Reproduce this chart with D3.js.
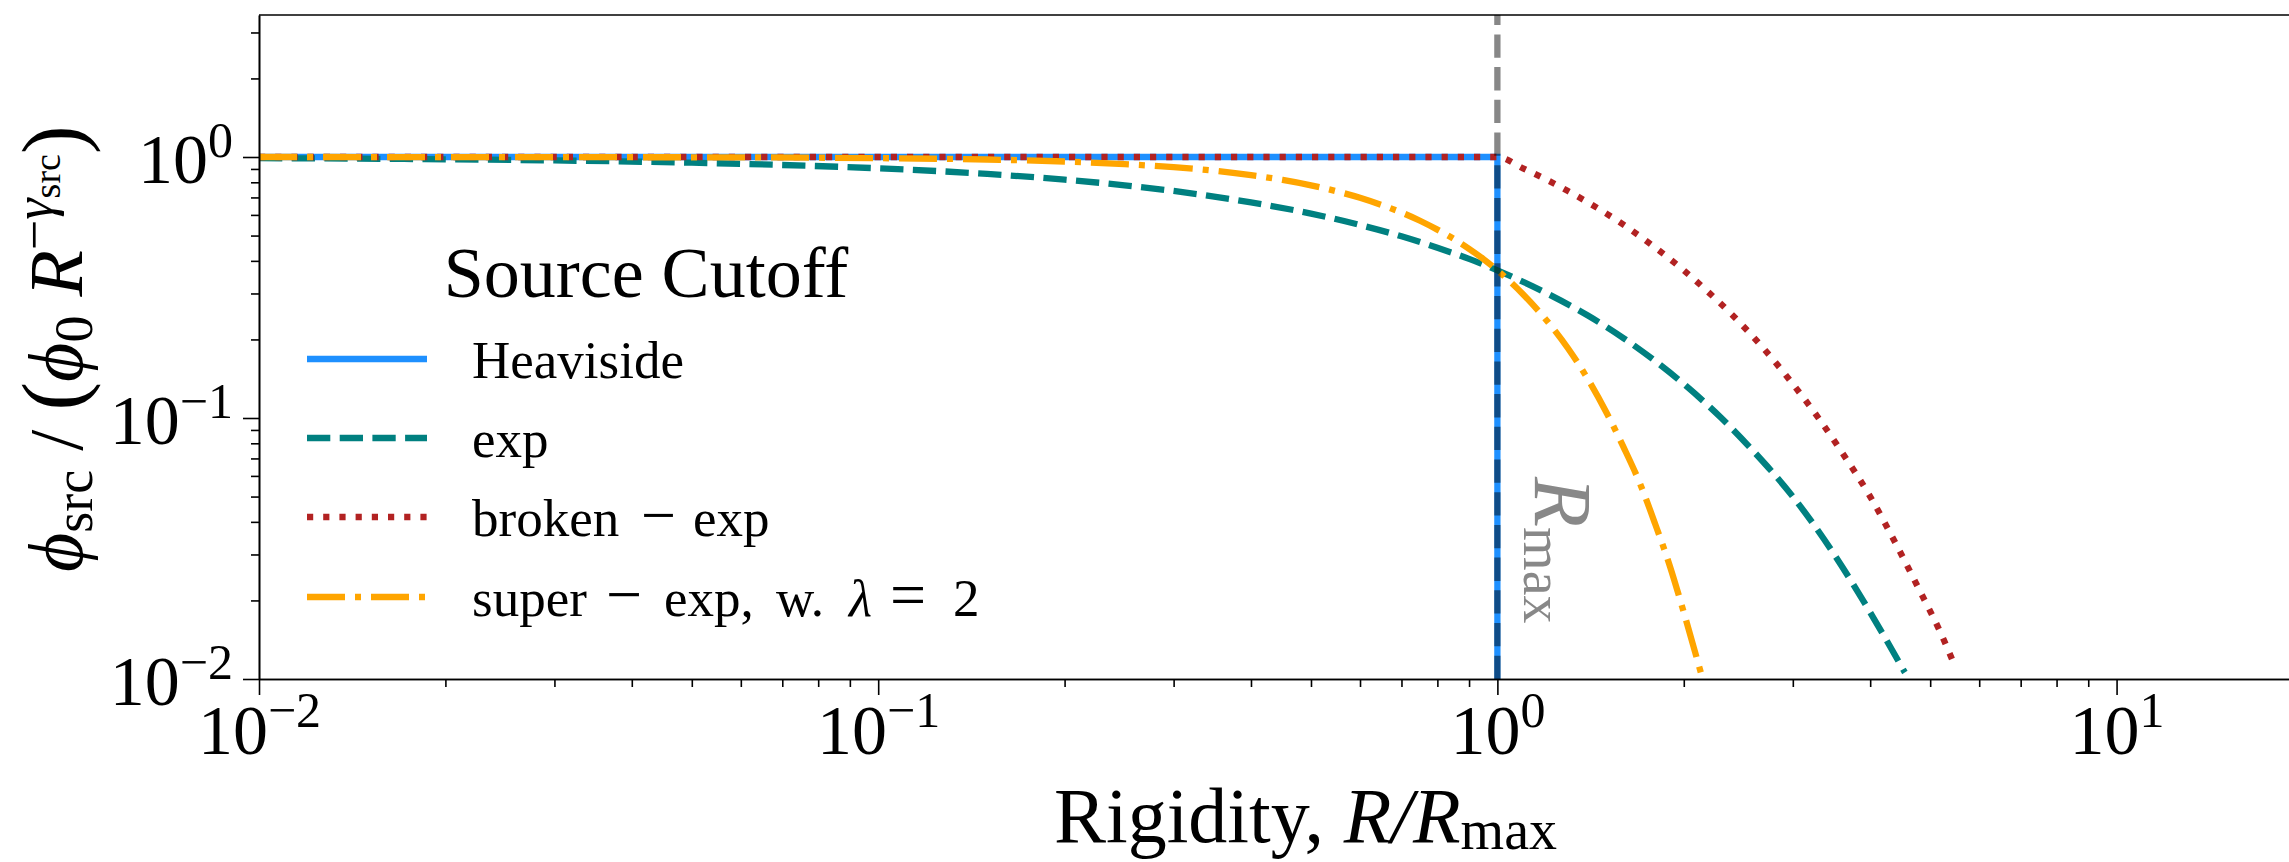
<!DOCTYPE html>
<html><head><meta charset="utf-8">
<script src="https://cdn.jsdelivr.net/npm/d3@7"></script>
<style>
body{margin:0;background:#fff}
svg{display:block}
text{font-family:"Liberation Serif","Times New Roman",serif;fill:#000}
</style>
</head><body>
<svg id="chart" width="2289" height="862"></svg>
<script>
// ---------- data ----------
const xTickValues = [0.01, 0.1, 1, 10];
const xTickExponents = ["−2", "−1", "0", "1"];
const yTickValues = [0.01, 0.1, 1];
const yTickExponents = ["−2", "−1", "0"];
const xMinorTicks = [0.02,0.03,0.04,0.05,0.06,0.07,0.08,0.09,0.2,0.3,0.4,0.5,0.6,0.7,0.8,0.9,2,3,4,5,6,7,8,9,20];
const yMinorTicks = [0.02,0.03,0.04,0.05,0.06,0.07,0.08,0.09,0.2,0.3,0.4,0.5,0.6,0.7,0.8,0.9,2,3];

const heavisideX = [0.01, 1, 1];
const heavisideY = [1, 1, 0.01];

const expX = [0.01,0.02,0.03,0.05,0.07,0.1,0.15,0.2,0.25,0.3,0.4,0.5,0.6,0.7,0.8,0.9,1.0,1.2,1.4,1.6,1.8,2.0,2.3,2.6,3.0,3.5,4.0,4.55];
const expY = [0.990,0.980,0.970,0.951,0.932,0.905,0.861,0.819,0.779,0.741,0.670,0.607,0.549,0.497,0.449,0.407,0.368,0.301,0.247,0.202,0.165,0.135,0.100,0.074,0.050,0.030,0.018,0.0106];

const brokenX = [0.01,0.1,0.5,1.0,1.1,1.2,1.3,1.4,1.5,1.6,1.8,2.0,2.2,2.4,2.7,3.0,3.3,3.6,4.0,4.4,4.8,5.2,5.5];
const brokenY = [1,1,1,1,0.905,0.819,0.741,0.670,0.607,0.549,0.449,0.368,0.301,0.247,0.183,0.135,0.100,0.074,0.050,0.033,0.022,0.015,0.011];

const superX = [0.01,0.05,0.1,0.15,0.2,0.25,0.3,0.35,0.4,0.45,0.5,0.55,0.6,0.65,0.7,0.75,0.8,0.85,0.9,0.95,1.0,1.1,1.2,1.3,1.4,1.5,1.6,1.7,1.8,1.9,2.0,2.14];
const superY = [1.0,0.9975,0.990,0.978,0.961,0.939,0.914,0.885,0.852,0.817,0.779,0.739,0.698,0.655,0.613,0.570,0.527,0.486,0.445,0.406,0.368,0.298,0.237,0.185,0.141,0.105,0.077,0.056,0.039,0.027,0.018,0.0102];

const cutoffPosition = 1;
const legendTitle = "Source Cutoff";

// ---------- layout ----------
const svg = d3.select("#chart");
const L = 259, T = 15, B = 679, R = 2352;
const x = d3.scaleLog().domain([0.01, 24]).range([L, R]);
const y = d3.scaleLog().domain([0.01, 3.5]).range([B, T]);

svg.append("defs").append("clipPath").attr("id","clip")
  .append("rect").attr("x",L).attr("y",T).attr("width",R-L).attr("height",B-T);

// ---------- series ----------
const series = [
  {name:"Heaviside", xs:heavisideX, ys:heavisideY, color:"#1e90ff", dash:null, curve:d3.curveLinear},
  {name:"exp", xs:expX, ys:expY, color:"#008080", dash:"23.3 9.4", curve:d3.curveMonotoneX},
  {name:"broken", xs:brokenX, ys:brokenY, color:"#b22222", dash:"6.2 10", curve:d3.curveMonotoneX},
  {name:"super", xs:superX, ys:superY, color:"#ffa500", dash:"38 10 6 10", curve:d3.curveMonotoneX}
];
const plot = svg.append("g").attr("clip-path","url(#clip)");
series.forEach(s => {
  const pts = s.xs.map((v,i)=>[v, s.ys[i]]);
  const line = d3.line().x(d=>x(d[0])).y(d=>y(d[1])).curve(s.curve);
  plot.append("path").attr("d", line(pts)).attr("fill","none")
    .attr("stroke", s.color).attr("stroke-width", 6.3)
    .attr("stroke-dasharray", s.dash);
});
// vertical cutoff line (drawn bottom to top)
plot.append("line").attr("x1",x(cutoffPosition)).attr("x2",x(cutoffPosition))
  .attr("y1",B).attr("y2",T).attr("stroke","#000").attr("stroke-opacity",0.47)
  .attr("stroke-width",6.3).attr("stroke-dasharray","23.3 9.4");

// ---------- axes ----------
function styleAxis(g){
  g.selectAll("path.domain").attr("stroke","#000").attr("stroke-width",1.6);
  g.selectAll(".tick line").attr("stroke","#000").attr("stroke-width",1.6);
}
const gx = svg.append("g").attr("transform",`translate(0,${B})`)
  .call(d3.axisBottom(x).tickValues(xTickValues).tickSize(16).tickSizeOuter(0).tickFormat(()=>""));
styleAxis(gx);
gx.selectAll(".tick text").each(function(d,i){
  const t = d3.select(this).attr("y",75).attr("dy",0).attr("font-size",70)
    .attr("text-anchor","middle").attr("font-family",'"Liberation Serif",serif').attr("fill","#000");
  t.text(null);
  t.append("tspan").text("10");
  t.append("tspan").attr("dy",-27).attr("font-size",50).text(xTickExponents[i]);
});
const gxm = svg.append("g").attr("transform",`translate(0,${B})`)
  .call(d3.axisBottom(x).tickValues(xMinorTicks).tickSize(8).tickSizeOuter(0).tickFormat(()=>""));
styleAxis(gxm);

const gy = svg.append("g").attr("transform",`translate(${L},0)`)
  .call(d3.axisLeft(y).tickValues(yTickValues).tickSize(16).tickSizeOuter(0).tickPadding(10).tickFormat(()=>""));
styleAxis(gy);
gy.selectAll(".tick text").each(function(d,i){
  const t = d3.select(this).attr("y",25).attr("dy",0).attr("font-size",70)
    .attr("text-anchor","end").attr("font-family",'"Liberation Serif",serif').attr("fill","#000");
  t.text(null);
  t.append("tspan").text("10");
  t.append("tspan").attr("dy",-26).attr("font-size",50).text(yTickExponents[i]);
});
const gym = svg.append("g").attr("transform",`translate(${L},0)`)
  .call(d3.axisLeft(y).tickValues(yMinorTicks).tickSize(8).tickSizeOuter(0).tickFormat(()=>""));
styleAxis(gym);
// top / right spines
svg.append("line").attr("x1",L).attr("x2",R).attr("y1",T).attr("y2",T)
  .attr("stroke","#000").attr("stroke-width",1.6);
svg.append("line").attr("x1",R).attr("x2",R).attr("y1",T).attr("y2",B)
  .attr("stroke","#000").attr("stroke-width",1.6);

// ---------- R_max annotation ----------
const rm = svg.append("text").attr("transform","translate(1535,477) rotate(90)")
  .style("fill","#888");
rm.append("tspan").attr("font-size",82).attr("font-style","italic").text("R");
rm.append("tspan").attr("font-size",56).attr("dy",11).text("max");

// ---------- axis labels ----------
const xl = svg.append("text").attr("x",(L+R)/2).attr("y",842).attr("text-anchor","middle").attr("font-size",78);
xl.append("tspan").text("Rigidity, ");
xl.append("tspan").attr("font-style","italic").text("R/R");
xl.append("tspan").attr("font-size",56).attr("dy",7).text("max");

const yl = svg.append("text").attr("transform","translate(82,572) rotate(-90)").attr("font-size",76);
yl.append("tspan").attr("font-style","italic").text("ϕ");
yl.append("tspan").attr("font-size",54).attr("dy",10).text("src");
yl.append("tspan").attr("dy",-10).text(" / ");
yl.append("tspan").attr("font-size",86).text("(");
yl.append("tspan").attr("font-style","italic").text("ϕ");
yl.append("tspan").attr("font-size",54).attr("dy",10).text("0");
yl.append("tspan").attr("dy",-10).attr("font-style","italic").text(" R");
yl.append("tspan").attr("font-size",54).attr("dy",-30).text("−");
yl.append("tspan").attr("font-size",54).attr("font-style","italic").text("γ");
yl.append("tspan").attr("font-size",38).attr("dy",8).text("src");
yl.append("tspan").attr("font-size",86).attr("dy",22).text(")");

// ---------- legend ----------
const lg = svg.append("g");
lg.append("text").attr("x",646).attr("y",297).attr("text-anchor","middle").attr("font-size",72).text(legendTitle);
const legendY = [359, 438, 517, 597];
series.forEach((s,i)=>{
  lg.append("line").attr("x1",307).attr("x2",427).attr("y1",legendY[i]).attr("y2",legendY[i])
    .attr("stroke",s.color).attr("stroke-width",6.3).attr("stroke-dasharray",s.dash);
});
const lt = (i)=> lg.append("text").attr("x",472).attr("y",legendY[i]+19).attr("font-size",53);
lt(0).text("Heaviside");
lt(1).text("exp");
const t2 = lt(2);
t2.append("tspan").text("broken");
t2.append("tspan").attr("x",641).attr("font-size",62).text("−");
t2.append("tspan").attr("x",693).text("exp");
const t3 = lt(3);
t3.append("tspan").text("super");
t3.append("tspan").attr("x",606).attr("font-size",64).text("−");
t3.append("tspan").attr("x",664).text("exp,");
t3.append("tspan").attr("x",776).text("w.");
t3.append("tspan").attr("x",849).attr("font-style","italic").text("λ");
t3.append("tspan").attr("x",890).attr("font-size",64).text("=");
t3.append("tspan").attr("x",953).text("2");
</script>
</body></html>
